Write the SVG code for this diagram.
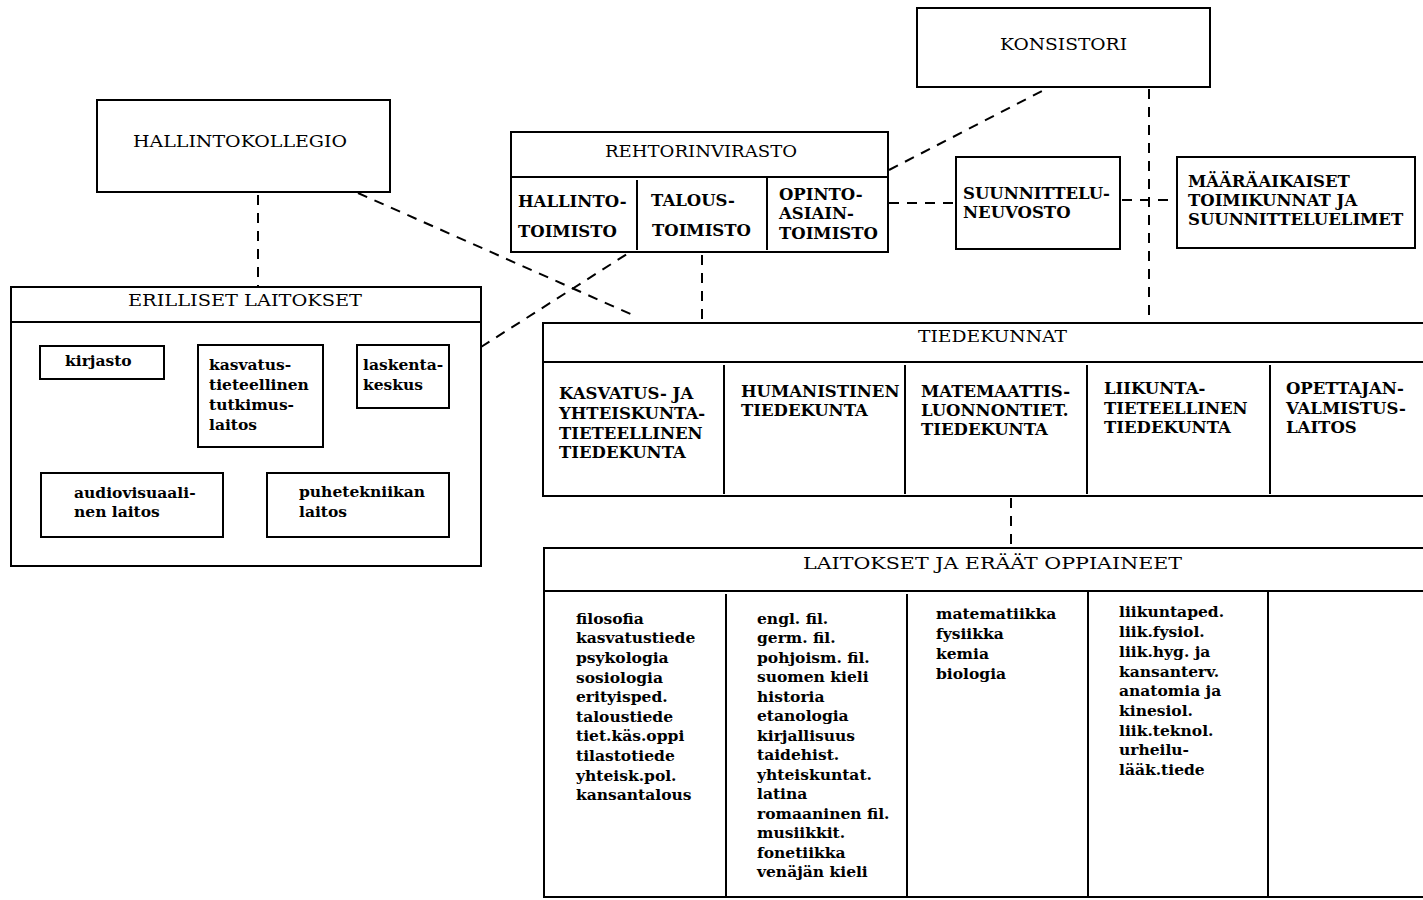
<svg xmlns="http://www.w3.org/2000/svg" width="1423" height="900" viewBox="0 0 1423 900">
<style>
.box{fill:none;stroke:#000;stroke-width:2}
.ln{stroke:#000;stroke-width:2;fill:none}
.dash{stroke:#000;stroke-width:2;stroke-dasharray:10 8;fill:none}
.h{font-family:"DejaVu Serif","Liberation Serif",serif;font-size:16px;fill:#000}
.b{font-family:"DejaVu Serif","Liberation Serif",serif;font-size:16.5px;font-weight:bold;fill:#000}
.l{font-family:"DejaVu Serif","Liberation Serif",serif;font-size:15.5px;font-weight:bold;fill:#000}
</style>
<rect width="1423" height="900" fill="#fff"/>

<g id="connectors">
<line class="dash" x1="258" y1="195" x2="258" y2="286"/>
<line class="dash" x1="358" y1="193" x2="635" y2="316"/>
<line class="dash" x1="481" y1="347" x2="627" y2="254"/>
<line class="dash" x1="702" y1="255" x2="702" y2="320"/>
<line class="dash" x1="889" y1="170" x2="1046" y2="89"/>
<line class="dash" x1="889" y1="203" x2="955" y2="203"/>
<line class="dash" x1="1122" y1="200" x2="1176" y2="200"/>
<line class="dash" x1="1149" y1="89" x2="1149" y2="321"/>
<line class="dash" x1="1011" y1="498" x2="1011" y2="546"/>
</g>

<g id="konsistori">
<rect class="box" x="917" y="8" width="293" height="79"/>
<text class="h" x="1000" y="50" textLength="127" lengthAdjust="spacingAndGlyphs">KONSISTORI</text>
</g>

<g id="hallintokollegio">
<rect class="box" x="97" y="100" width="293" height="92"/>
<text class="h" x="133" y="147" textLength="214" lengthAdjust="spacingAndGlyphs">HALLINTOKOLLEGIO</text>
</g>

<g id="rehtorinvirasto">
<rect class="box" x="511" y="132" width="377" height="120"/>
<line class="ln" x1="511" y1="177" x2="888" y2="177"/>
<line class="ln" x1="637" y1="180" x2="637" y2="250"/>
<line class="ln" x1="767" y1="178" x2="767" y2="250"/>
<text class="h" x="605" y="157" textLength="192" lengthAdjust="spacingAndGlyphs">REHTORINVIRASTO</text>
<text class="b" x="518" y="207">HALLINTO-</text>
<text class="b" x="518" y="237">TOIMISTO</text>
<text class="b" x="651" y="206">TALOUS-</text>
<text class="b" x="652" y="236">TOIMISTO</text>
<text class="b" x="779" y="200">OPINTO-</text>
<text class="b" x="779" y="219">ASIAIN-</text>
<text class="b" x="779" y="239">TOIMISTO</text>
</g>

<g id="suunnitteluneuvosto">
<rect class="box" x="956" y="157" width="164" height="92"/>
<text class="b" x="963" y="199">SUUNNITTELU-</text>
<text class="b" x="963" y="218">NEUVOSTO</text>
</g>

<g id="maaraaikaiset">
<rect class="box" x="1177" y="157" width="238" height="91"/>
<text class="b" x="1188" y="187">MÄÄRÄAIKAISET</text>
<text class="b" x="1188" y="206">TOIMIKUNNAT JA</text>
<text class="b" x="1188" y="225">SUUNNITTELUELIMET</text>
</g>

<g id="erilliset">
<rect class="box" x="11" y="287" width="470" height="279"/>
<line class="ln" x1="11" y1="322" x2="481" y2="322"/>
<text class="h" x="128" y="306" textLength="234" lengthAdjust="spacingAndGlyphs">ERILLISET LAITOKSET</text>
</g>

<g id="kirjasto">
<rect class="box" x="40" y="346" width="124" height="33"/>
<text class="l" x="65" y="366">kirjasto</text>
</g>

<g id="kasvatustieteellinen">
<rect class="box" x="198" y="345" width="125" height="102"/>
<text class="l" x="209" y="370">kasvatus-</text>
<text class="l" x="209" y="390">tieteellinen</text>
<text class="l" x="209" y="410">tutkimus-</text>
<text class="l" x="209" y="430">laitos</text>
</g>

<g id="laskentakeskus">
<rect class="box" x="357" y="345" width="92" height="63"/>
<text class="l" x="363" y="370">laskenta-</text>
<text class="l" x="363" y="390">keskus</text>
</g>

<g id="audiovisuaalinen">
<rect class="box" x="41" y="473" width="182" height="64"/>
<text class="l" x="74" y="498">audiovisuaali-</text>
<text class="l" x="74" y="517">nen laitos</text>
</g>

<g id="puhetekniikan">
<rect class="box" x="267" y="473" width="182" height="64"/>
<text class="l" x="299" y="497">puhetekniikan</text>
<text class="l" x="299" y="517">laitos</text>
</g>

<g id="tiedekunnat">
<path class="ln" d="M1423 323 H543 V496 H1423"/>
<line class="ln" x1="543" y1="362" x2="1423" y2="362"/>
<line class="ln" x1="724" y1="365" x2="724" y2="494"/>
<line class="ln" x1="905" y1="365" x2="905" y2="494"/>
<line class="ln" x1="1087" y1="365" x2="1087" y2="494"/>
<line class="ln" x1="1270" y1="365" x2="1270" y2="494"/>
<text class="h" x="918" y="342" textLength="149" lengthAdjust="spacingAndGlyphs">TIEDEKUNNAT</text>
<text class="b" x="559" y="399">KASVATUS- JA</text>
<text class="b" x="559" y="419">YHTEISKUNTA-</text>
<text class="b" x="559" y="439">TIETEELLINEN</text>
<text class="b" x="559" y="458">TIEDEKUNTA</text>
<text class="b" x="741" y="397">HUMANISTINEN</text>
<text class="b" x="741" y="416">TIEDEKUNTA</text>
<text class="b" x="921" y="397">MATEMAATTIS-</text>
<text class="b" x="921" y="416">LUONNONTIET.</text>
<text class="b" x="921" y="435">TIEDEKUNTA</text>
<text class="b" x="1104" y="394">LIIKUNTA-</text>
<text class="b" x="1104" y="414">TIETEELLINEN</text>
<text class="b" x="1104" y="433">TIEDEKUNTA</text>
<text class="b" x="1286" y="394">OPETTAJAN-</text>
<text class="b" x="1286" y="414">VALMISTUS-</text>
<text class="b" x="1286" y="433">LAITOS</text>
</g>

<g id="laitokset">
<path class="ln" d="M1423 548 H544 V897 H1423"/>
<line class="ln" x1="544" y1="591" x2="1423" y2="591"/>
<line class="ln" x1="726" y1="594" x2="726" y2="896"/>
<line class="ln" x1="907" y1="594" x2="907" y2="896"/>
<line class="ln" x1="1088" y1="592" x2="1088" y2="896"/>
<line class="ln" x1="1268" y1="590" x2="1268" y2="896"/>
<text class="h" x="803" y="569" textLength="379" lengthAdjust="spacingAndGlyphs">LAITOKSET JA ERÄÄT OPPIAINEET</text>
<g class="l">
<text x="576" y="624">filosofia</text>
<text x="576" y="643">kasvatustiede</text>
<text x="576" y="663">psykologia</text>
<text x="576" y="683">sosiologia</text>
<text x="576" y="702">erityisped.</text>
<text x="576" y="722">taloustiede</text>
<text x="576" y="741">tiet.käs.oppi</text>
<text x="576" y="761">tilastotiede</text>
<text x="576" y="781">yhteisk.pol.</text>
<text x="576" y="800">kansantalous</text>

<text x="757" y="624">engl. fil.</text>
<text x="757" y="643">germ. fil.</text>
<text x="757" y="663">pohjoism. fil.</text>
<text x="757" y="682">suomen kieli</text>
<text x="757" y="702">historia</text>
<text x="757" y="721">etanologia</text>
<text x="757" y="741">kirjallisuus</text>
<text x="757" y="760">taidehist.</text>
<text x="757" y="780">yhteiskuntat.</text>
<text x="757" y="799">latina</text>
<text x="757" y="819">romaaninen fil.</text>
<text x="757" y="838">musiikkit.</text>
<text x="757" y="858">fonetiikka</text>
<text x="757" y="877">venäjän kieli</text>

<text x="936" y="619">matematiikka</text>
<text x="936" y="639">fysiikka</text>
<text x="936" y="659">kemia</text>
<text x="936" y="679">biologia</text>

<text x="1119" y="617">liikuntaped.</text>
<text x="1119" y="637">liik.fysiol.</text>
<text x="1119" y="657">liik.hyg. ja</text>
<text x="1119" y="677">kansanterv.</text>
<text x="1119" y="696">anatomia ja</text>
<text x="1119" y="716">kinesiol.</text>
<text x="1119" y="736">liik.teknol.</text>
<text x="1119" y="755">urheilu-</text>
<text x="1119" y="775">lääk.tiede</text>
</g>
</g>
</svg>
